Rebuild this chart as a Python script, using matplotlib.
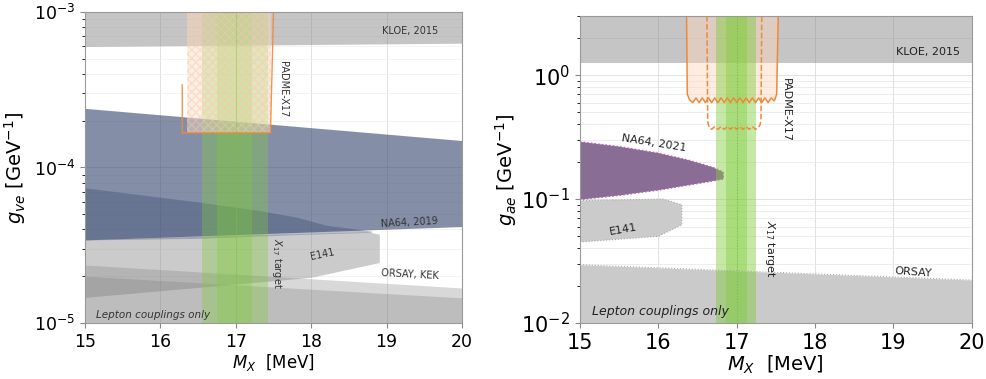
import numpy as np
import matplotlib.pyplot as plt

# ---- left panel data (g_ve) ----
x_edges = [15, 20]
kloe_left = [6.0e-4, 6.3e-4]

na64_2019_x = [15, 20]
na64_2019_top = [2.4e-4, 1.49e-4]
na64_2019_bot = [3.42e-5, 4.17e-5]

na64_2019b_x = [15, 16.5, 17.3, 17.8, 18.2, 18.8]
na64_2019b_top = [7.4e-5, 6.0e-5, 5.3e-5, 4.8e-5, 4.25e-5, 3.9e-5]
na64_2019b_bot = [3.42e-5, 3.5e-5, 3.62e-5, 3.7e-5, 3.75e-5, 3.83e-5]

e141_left_x = [15, 18.75, 18.91, 18.91, 18.0, 15]
e141_left_y = [3.42e-5, 3.83e-5, 3.7e-5, 2.43e-5, 1.95e-5, 1.45e-5]

orsay_left_top = [2.36e-5, 1.68e-5]
kek_left_top = [2.0e-5, 1.45e-5]

padme_left_x = [16.29, 16.29, 17.46, 17.5]
padme_left_y = [3.4e-4, 1.67e-4, 1.67e-4, 1.0e-3]

x17_left_outer = [16.55, 17.43]
x17_left_inner = [16.75, 17.21]

# ---- right panel data (g_ae) ----
kloe_right = [1.25, 1.25]

padme_solid_x = [16.36, 16.37, 16.40, 16.44, 16.48, 16.52, 16.56, 16.60, 16.64, 16.68,
                 16.72, 16.76, 16.80, 16.84, 16.88, 16.92, 16.96, 17.00, 17.04, 17.08,
                 17.12, 17.16, 17.20, 17.24, 17.28, 17.32, 17.36, 17.40, 17.44, 17.48,
                 17.51, 17.53]
padme_solid_y = [3.0, 0.70, 0.63, 0.60, 0.655, 0.60, 0.655, 0.60, 0.655, 0.60,
                 0.655, 0.60, 0.655, 0.60, 0.655, 0.60, 0.655, 0.60, 0.655, 0.60,
                 0.655, 0.60, 0.655, 0.60, 0.655, 0.60, 0.655, 0.60, 0.655, 0.62,
                 0.70, 3.0]
padme_dash_x = [16.62, 16.63, 16.65, 16.68, 16.72, 16.76, 16.80, 16.84, 16.88, 16.92,
                16.96, 17.00, 17.04, 17.08, 17.12, 17.16, 17.20, 17.24, 17.28, 17.30,
                17.31, 17.32]
padme_dash_y = [3.0, 0.42, 0.38, 0.365, 0.385, 0.365, 0.385, 0.365, 0.385, 0.365,
                0.385, 0.365, 0.385, 0.365, 0.385, 0.365, 0.385, 0.365, 0.38, 0.40,
                0.45, 3.0]

na64_2021_x = [15, 15.5, 16.0, 16.4, 16.7, 16.83, 16.83, 16.7, 16.4, 16.0, 15.5, 15]
na64_2021_y = [0.29, 0.265, 0.235, 0.205, 0.18, 0.165, 0.145, 0.14, 0.13, 0.118, 0.107, 0.099]

e141_right_x = [15, 16.06, 16.3, 16.3, 16.0, 15]
e141_right_y = [0.097, 0.10, 0.09, 0.062, 0.05, 0.045]

orsay_right_top = [0.0295, 0.0222]

x17_right_outer = [16.73, 17.25]
x17_right_inner = [16.86, 17.13]

gray = '#7f7f7f'
blue = '#33446c'
green = '#7fcc3a'
orange = '#ee8a3c'

fig = plt.figure(figsize=(9.87, 3.79), dpi=100)
ax1 = fig.add_axes([0.0861, 0.1478, 0.382, 0.8206])
ax2 = fig.add_axes([0.5876, 0.1478, 0.397, 0.810])

# ---------------- left panel ----------------
ax1.set_yscale('log')
ax1.set_xlim(15, 20)
ax1.set_ylim(1e-5, 1e-3)

ax1.fill_between(x_edges, kloe_left, 1e-3, color=gray, alpha=0.45, lw=0)
ax1.fill_between(na64_2019_x, na64_2019_bot, na64_2019_top, color=blue, alpha=0.6, lw=0)
ax1.fill_between(na64_2019b_x, na64_2019b_bot, na64_2019b_top, color=blue, alpha=0.35, lw=0)
ax1.fill(e141_left_x, e141_left_y, color=gray, alpha=0.4, lw=0)
ax1.fill_between(x_edges, 1e-5, orsay_left_top, color=gray, alpha=0.3, lw=0)
ax1.fill_between(x_edges, 1e-5, kek_left_top, color=gray, alpha=0.3, lw=0)

ax1.axvspan(x17_left_outer[0], x17_left_outer[1], color=green, alpha=0.35, lw=0)
ax1.axvspan(x17_left_inner[0], x17_left_inner[1], color=green, alpha=0.3, lw=0)
ax1.axvline(17.0, color=green, alpha=0.4, lw=0.8)

ax1.fill_between([16.35, 17.47], padme_left_y[1], 1e-3, facecolor='#fbdcc4', alpha=0.45,
                 hatch='xxxx', edgecolor='#f6c9a8', lw=0)
ax1.plot(padme_left_x, padme_left_y, color=orange, lw=1.0, alpha=0.9)

ax1.grid(True, which='major', color='#dddddd', lw=0.6)
ax1.grid(True, which='minor', axis='y', color='#eeeeee', lw=0.5)
ax1.set_axisbelow(True)

ax1.text(19.68, 7.6e-4, 'KLOE, 2015', fontsize=7, ha='right', va='center', color='#333333')
ax1.text(17.62, 3.2e-4, 'PADME-X17', fontsize=7, rotation=270, ha='center', va='center', color='#333333')
ax1.text(19.68, 4.45e-5, 'NA64, 2019', fontsize=7, ha='right', va='center', rotation=3, color='#333333')
ax1.text(18.15, 2.75e-5, 'E141', fontsize=7, ha='center', va='center', rotation=12, color='#333333')
ax1.text(19.7, 2.05e-5, 'ORSAY, KEK', fontsize=7, ha='right', va='center', rotation=-3, color='#333333')
ax1.text(17.55, 2.4e-5, '$X_{17}$ target', fontsize=7, rotation=270, ha='center', va='center', color='#333333')
ax1.text(15.15, 1.13e-5, 'Lepton couplings only', fontsize=7.5, style='italic', ha='left', va='center', color='#333333')

ax1.set_xlabel('$M_X$  [MeV]', fontsize=12, labelpad=1)
ax1.set_ylabel('$g_{ve}$ [GeV$^{-1}$]', fontsize=14, labelpad=4)
ax1.tick_params(labelsize=12.5, color='#888888')
ax1.set_xticks([15, 16, 17, 18, 19, 20])
for s in ax1.spines.values():
    s.set_color('#999999')

# ---------------- right panel ----------------
ax2.set_yscale('log')
ax2.set_xlim(15, 20)
ax2.set_ylim(1e-2, 3.0)

ax2.fill_between(x_edges, kloe_right, 3.0, color=gray, alpha=0.45, lw=0)

ax2.fill_between(padme_solid_x, padme_solid_y, 3.0, color='#fbd5b8', alpha=0.45, lw=0)
ax2.plot(padme_solid_x, padme_solid_y, color=orange, lw=1.1)
ax2.plot(padme_dash_x, padme_dash_y, color=orange, lw=1.1, ls='--')

ax2.fill(na64_2021_x, na64_2021_y, facecolor='#8a6d94', edgecolor='#b65fb8', lw=1.0, ls=':')
ax2.fill(e141_right_x, e141_right_y, facecolor='#cbcbcb', edgecolor='#aaaaaa', lw=0.8, ls=':')
ax2.fill_between(x_edges, 1e-2, orsay_right_top, color='#c9cac9', lw=0)
ax2.plot(x_edges, orsay_right_top, color='#aaaaaa', lw=0.8, ls=':')

ax2.axvspan(x17_right_outer[0], x17_right_outer[1], color=green, alpha=0.45, lw=0)
ax2.axvspan(x17_right_inner[0], x17_right_inner[1], color=green, alpha=0.4, lw=0)
ax2.axvline(17.0, color='#6cb030', alpha=0.5, lw=0.8, ls=':')

ax2.grid(True, which='major', color='#dddddd', lw=0.6)
ax2.grid(True, which='minor', axis='y', color='#e6e6e6', lw=0.5)
ax2.set_axisbelow(True)

ax2.text(19.85, 1.55, 'KLOE, 2015', fontsize=8, ha='right', va='center', color='#222222')
ax2.text(17.63, 0.52, 'PADME-X17', fontsize=8, rotation=270, ha='center', va='center', color='#222222')
ax2.text(15.95, 0.285, 'NA64, 2021', fontsize=8, rotation=-9, ha='center', va='center', color='#222222')
ax2.text(15.55, 0.057, 'E141', fontsize=8, rotation=10, ha='center', va='center', color='#222222')
ax2.text(17.43, 0.04, '$X_{17}$ target', fontsize=8, rotation=270, ha='center', va='center', color='#222222')
ax2.text(19.25, 0.0255, 'ORSAY', fontsize=8, rotation=-4, ha='center', va='center', color='#222222')
ax2.text(15.15, 0.0123, 'Lepton couplings only', fontsize=9, style='italic', ha='left', va='center', color='#222222')

ax2.set_xlabel('$M_X$  [MeV]', fontsize=14, labelpad=1)
ax2.set_ylabel('$g_{ae}$ [GeV$^{-1}$]', fontsize=14, labelpad=2)
ax2.tick_params(labelsize=15, color='#888888')
ax2.set_xticks([15, 16, 17, 18, 19, 20])
for s in ax2.spines.values():
    s.set_color('#999999')

fig.savefig('out.png', dpi=100)
